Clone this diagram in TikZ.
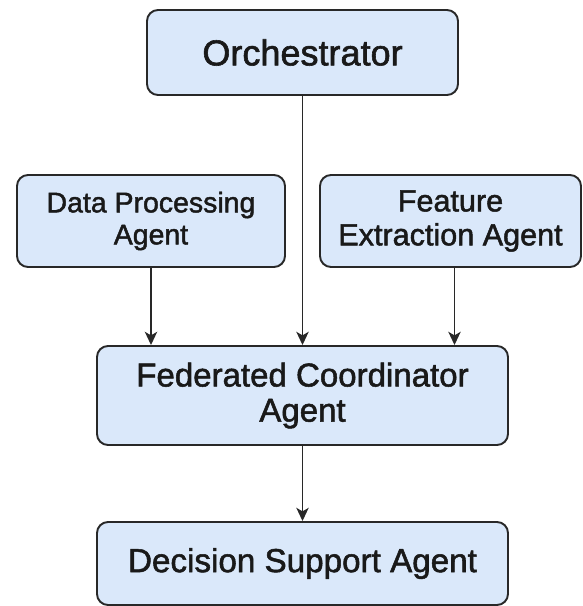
\documentclass[tikz,border=0pt]{standalone}
\usepackage{fontspec}
\setmainfont{Liberation Sans}[FakeBold=1.6]
\usetikzlibrary{arrows.meta}

\definecolor{agentfill}{RGB}{218,232,250}
\definecolor{agentline}{RGB}{40,40,40}

\tikzset{
  agentbox/.style={draw=agentline, fill=agentfill, line width=1.1pt,
    rounded corners=0.22cm, align=center, inner sep=0pt, text=black!90},
  flow/.style={draw=agentline, line width=1pt,
    -{Stealth[length=7.5pt,width=7pt,inset=2pt]}}
}

\begin{document}
\begin{tikzpicture}
          \useasboundingbox (0,0) rectangle (11.66,-12.12);
          % agents
          \node[agentbox, minimum width=6.22cm, minimum height=1.7cm,
                font=\fontsize{20.5}{22}\selectfont] (orch) at (6.05,-1.05) {Orchestrator};
          \node[agentbox, minimum width=5.36cm, minimum height=1.84cm,
                font=\fontsize{16.2}{18.2}\selectfont] (data) at (3.02,-4.42) {Data Processing\\Agent};
          \node[agentbox, minimum width=5.22cm, minimum height=1.84cm,
                font=\fontsize{17.4}{19.3}\selectfont] (feature) at (9.01,-4.42) {Feature\\Extraction Agent};
          \node[agentbox, minimum width=8.22cm, minimum height=1.98cm,
                font=\fontsize{18.8}{20}\selectfont] (coord) at (6.05,-7.91) {Federated Coordinator\\Agent};
          \node[agentbox, minimum width=8.22cm, minimum height=1.66cm,
                font=\fontsize{18.9}{20}\selectfont] (decision) at (6.05,-11.27) {Decision Support Agent};
          % connectors
          \draw[flow] (orch.south) -- (coord.north);
          \draw[flow] (data.south) -- (data.south |- coord.north);
          \draw[flow] ([xshift=0.08cm]feature.south) -- ([xshift=0.08cm]feature.south |- coord.north);
          \draw[flow] (coord.south) -- (decision.north);
        \end{tikzpicture}
\end{document}
